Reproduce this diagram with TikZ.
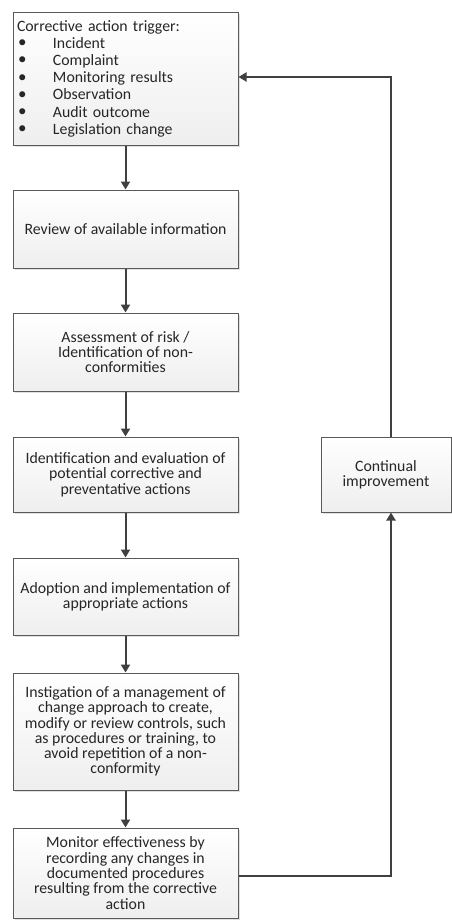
\documentclass[tikz,border=0pt]{standalone}
\usepackage{fontspec}
\setmainfont{Carlito}
\usetikzlibrary{arrows.meta,shadows}
\definecolor{edgecol}{HTML}{5A5A5A}
\definecolor{arrcol}{HTML}{404040}
\tikzset{
  box/.style={draw=edgecol, line width=1pt, top color=white, bottom color=gray!13,
    drop shadow={shadow xshift=2pt, shadow yshift=-2pt, fill=black, opacity=0.12},
    align=center, font=\fontsize{15.8}{15.3}\selectfont, inner sep=0pt, text=black!85,
    minimum width=225pt},
  flow/.style={draw=arrcol, line width=2pt, -{Triangle[width=9pt,length=8pt]}},
}
\newcommand{\bul}{\makebox[36pt][l]{\hspace{1pt}\raisebox{0.5pt}{\fontsize{17}{15}\selectfont•}}}
\begin{document}
\begin{tikzpicture}[x=1pt,y=-1pt]
\useasboundingbox[fill=white] (0,0) rectangle (452,921);
\node[box, minimum height=133pt, align=left, text width=217pt, font=\fontsize{15.8}{17.2}\selectfont] (b1) at (125.5,78.5) {%
Corrective action trigger:\\
\bul Incident\\
\bul Complaint\\
\bul Monitoring results\\
\bul Observation\\
\bul Audit outcome\\
\bul Legislation change};
\node[box, minimum height=78pt] (b2) at (125.5,229) {Review of available information};
\node[box, minimum height=78pt] (b3) at (125.5,352) {Assessment of risk /\\Identification of non-\\conformities};
\node[box, minimum height=75pt] (b4) at (125.5,474.5) {Identification and evaluation of\\potential corrective and\\preventative actions};
\node[box, minimum height=77pt] (b5) at (125.5,596.5) {Adoption and implementation of\\appropriate actions};
\node[box, minimum height=117pt] (b6) at (125.5,731.5) {Instigation of a management of\\change approach to create,\\modify or review controls, such\\as procedures or training, to\\avoid repetition of a non-\\conformity};
\node[box, minimum height=90pt] (b7) at (125.5,873) {Monitor effectiveness by\\recording any changes in\\documented procedures\\resulting from the corrective\\action};
\node[box, minimum width=130pt, minimum height=75pt] (ci) at (386,474.5) {Continual\\improvement};
\coordinate (c1) at (391,876);
\coordinate (c2) at (391,77);
\draw[flow] (b1) -- (b2);
\draw[flow] (b2) -- (b3);
\draw[flow] (b3) -- (b4);
\draw[flow] (b4) -- (b5);
\draw[flow] (b5) -- (b6);
\draw[flow] (b6) -- (b7);
\draw[flow] (b7.east |- c1) -- (c1) -- (c1 |- ci.south);
\draw[flow] (c2 |- ci.north) -- (c2) -- (b1.east |- c2);
\end{tikzpicture}
\end{document}
